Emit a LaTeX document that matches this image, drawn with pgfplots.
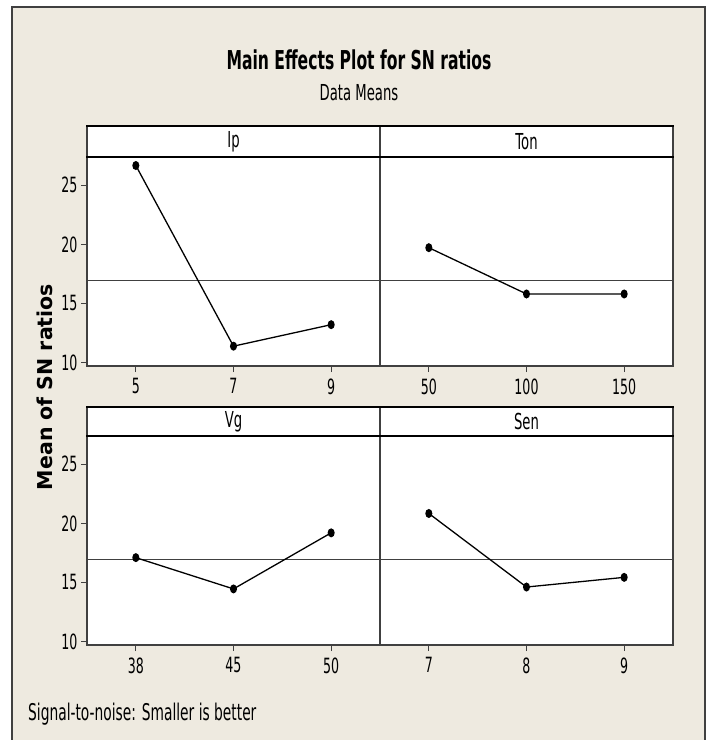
\documentclass[border=0pt]{standalone}
\usepackage{fontspec}
\setmainfont{DejaVu Sans}
\newfontfamily\cond{DejaVu Sans}[FakeStretch=0.6]
\usepackage{pgfplots}
\pgfplotsset{compat=1.18}
\definecolor{bg}{HTML}{EEEAE0}
\definecolor{axgray}{HTML}{404040}
\pgfplotsset{
  mep/.style={
    scale only axis, width=293pt, height=209pt,
    xmin=-0.5, xmax=2.5, ymin=9.7, ymax=27.4,
    axis background/.style={fill=white},
    axis line style={axgray, line width=1.3pt},
    every tick/.style={axgray, line width=1.2pt},
    tick align=outside, major tick length=6pt,
    xtick={0,1,2}, xtick pos=left, ytick pos=left,
    ytick={10,15,20,25}, yticklabels={10,15,20,25},
    /pgf/number format/assume math mode=true,
    xticklabel style={font=\cond\fontsize{21}{21}\selectfont, yshift=-3pt},
    yticklabel style={font=\cond\fontsize{21}{21}\selectfont},
    clip=false,
  },
  noy/.style={ytick=\empty, yticklabels={}},
  meanline/.style={axgray, line width=1.2pt, forget plot},
  dataline/.style={black, line width=1.3pt, mark=*, mark size=3.8pt, mark options={xscale=0.75, fill=black}},
}
\begin{document}
\begin{tikzpicture}
\useasboundingbox (0,0) rectangle (712pt,-740pt);
\fill[white] (0,0) rectangle (712pt,-740pt);
\fill[bg] (12pt,-7pt) rectangle (705pt,-740pt);
\draw[axgray, line width=2pt] (12pt,-740pt) -- (12pt,-7pt) -- (705pt,-7pt) -- (705pt,-740pt);

% Ip
\begin{axis}[mep, at={(87pt,-366pt)}, anchor=south west, xticklabels={5,7,9}]
\addplot[meanline] coordinates {(-0.5,16.97) (2.5,16.97)};
\addplot[dataline] coordinates {(0,26.68) (1,11.38) (2,13.2)};
\end{axis}
% Ton
\begin{axis}[mep, noy, at={(380pt,-366pt)}, anchor=south west, xticklabels={50,100,150}]
\addplot[meanline] coordinates {(-0.5,16.97) (2.5,16.97)};
\addplot[dataline] coordinates {(0,19.72) (1,15.8) (2,15.8)};
\end{axis}
% Vg
\begin{axis}[mep, at={(87pt,-645pt)}, anchor=south west, xticklabels={38,45,50}]
\addplot[meanline] coordinates {(-0.5,16.97) (2.5,16.97)};
\addplot[dataline] coordinates {(0,17.1) (1,14.45) (2,19.2)};
\end{axis}
% Sen
\begin{axis}[mep, noy, at={(380pt,-645pt)}, anchor=south west, xticklabels={7,8,9}]
\addplot[meanline] coordinates {(-0.5,16.97) (2.5,16.97)};
\addplot[dataline] coordinates {(0,20.84) (1,14.61) (2,15.43)};
\end{axis}

% strip headers
\foreach \yt/\yb in {126/157, 407/436} {
  \fill[white] (87pt,-\yt pt) rectangle (673pt,-\yb pt);
  \draw[axgray, line width=1.3pt] (87pt,-\yt pt) -- (87pt,-\yb pt);
  \draw[axgray, line width=1.3pt] (380pt,-\yt pt) -- (380pt,-\yb pt);
  \draw[axgray, line width=1.3pt] (673pt,-\yt pt) -- (673pt,-\yb pt);
  \draw[black, line width=2pt] (86.35pt,-\yt pt) -- (673.65pt,-\yt pt);
  \draw[black, line width=2pt] (86.35pt,-\yb pt) -- (673.65pt,-\yb pt);
}
\begin{scope}[every node/.style={font=\cond\fontsize{22}{22}\selectfont, inner sep=0pt}]
\node at (233.5pt,-141.5pt) {Ip};
\node at (526.5pt,-141.5pt) {Ton};
\node at (233.5pt,-421.5pt) {Vg};
\node at (526.5pt,-421.5pt) {Sen};
\end{scope}

\node[font=\cond\bfseries\fontsize{26}{26}\selectfont, anchor=base, inner sep=0pt] at (359pt,-69pt) {Main Effects Plot for SN ratios};
\node[font=\cond\fontsize{22}{22}\selectfont, anchor=base, inner sep=0pt] at (359pt,-100pt) {Data Means};
\node[font=\bfseries\fontsize{20.5}{20.5}\selectfont, rotate=90, inner sep=0pt] at (45pt,-387pt) {Mean of SN ratios};
\node[font=\cond\fontsize{23}{23}\selectfont, anchor=base west, inner sep=0pt] at (28pt,-720pt) {Signal-to-noise: Smaller is better};
\end{tikzpicture}
\end{document}
